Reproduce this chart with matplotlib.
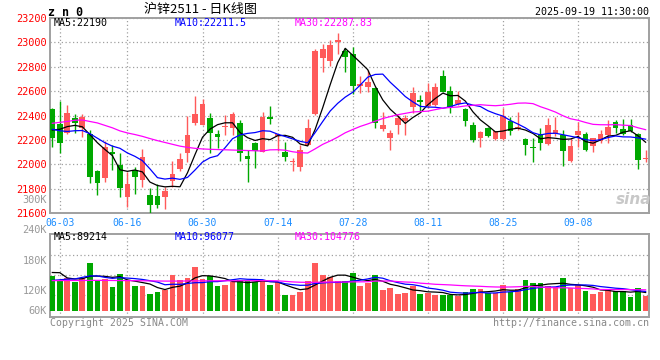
import matplotlib.pyplot as plt
import numpy as np
import pandas as pd

plt.rcParams['font.family'] = ['DejaVu Sans Mono', 'Noto Sans CJK SC']

# 沪锌2511 日K, 80 个交易日 (05-30 .. 09-19)
dates = pd.bdate_range('2025-05-30', '2025-09-19', freq='C', holidays=['2025-06-02'])
day_labels = list(dates.strftime('%m-%d'))
tick_dates = ['06-03', '06-16', '06-30', '07-14', '07-28', '08-11', '08-25', '09-08']

opens = [22454, 22331, 22255, 22378, 22296, 22249, 21946, 21892, 22105, 21996,
         21736, 21955, 21876, 21750, 21742, 21736, 21867, 21963, 22091, 22342,
         22323, 22378, 22249, 22309, 22296, 22337, 22069, 22173, 22105, 22389,
         22236, 22105, 22023, 21982, 22159, 22413, 22874, 22850, 22999, 22932,
         22902, 22645, 22637, 22629, 22290, 22219, 22323, 22356, 22473, 22528,
         22481, 22487, 22724, 22601, 22495, 22454, 22323, 22214, 22296, 22208,
         22208, 22356, 22296, 22208, 22146, 22247, 22168, 22247, 22241, 22031,
         22241, 22249, 22154, 22192, 22241, 22345, 22288, 22323, 22247, 22042]
highs = [22465, 22520, 22487, 22416, 22416, 22282, 21955, 22192, 22159, 22097,
         21936, 21982, 22124, 21805, 21837, 21818, 22028, 22091, 22397, 22561,
         22534, 22419, 22282, 22405, 22432, 22364, 22118, 22180, 22432, 22479,
         22249, 22187, 22056, 22159, 22370, 22943, 22983, 23019, 23079, 22951,
         22964, 22724, 22773, 22637, 22432, 22282, 22405, 22405, 22637, 22569,
         22670, 22670, 22773, 22642, 22601, 22465, 22345, 22274, 22309, 22274,
         22465, 22391, 22427, 22219, 22214, 22296, 22383, 22391, 22282, 22214,
         22350, 22268, 22219, 22282, 22364, 22364, 22372, 22372, 22255, 22118]
lows = [22146, 22091, 22247, 22255, 22228, 21846, 21750, 21859, 21955, 21736,
        21654, 21756, 21818, 21590, 21646, 21633, 21818, 21950, 22023, 22323,
        22323, 22097, 22138, 22241, 22241, 22031, 21859, 21974, 22105, 22329,
        22110, 22031, 21947, 21949, 22159, 22405, 22760, 22809, 22902, 22760,
        22574, 22582, 22596, 22296, 22274, 22118, 22247, 22241, 22419, 22427,
        22460, 22481, 22591, 22424, 22487, 22318, 22181, 22146, 22228, 22200,
        22200, 22241, 22282, 22077, 22023, 22118, 22159, 22236, 21990, 22023,
        22146, 22110, 22105, 22178, 22178, 22255, 22241, 22268, 21960, 22023]
closes = [22219, 22178, 22419, 22337, 22389, 21900, 21846, 22143, 22083, 21810,
          21837, 21900, 22064, 21668, 21668, 21783, 21922, 22045, 22241, 22413,
          22492, 22255, 22228, 22318, 22413, 22091, 22047, 22113, 22391, 22375,
          22249, 22064, 22031, 22118, 22296, 22929, 22945, 22978, 23019, 22883,
          22645, 22656, 22678, 22342, 22323, 22260, 22378, 22378, 22582, 22514,
          22591, 22637, 22596, 22473, 22528, 22359, 22200, 22263, 22236, 22274,
          22394, 22274, 22307, 22159, 22135, 22173, 22323, 22282, 22113, 22151,
          22274, 22118, 22214, 22247, 22309, 22301, 22249, 22274, 22036, 22050]
volumes = [171600, 148500, 163350, 143550, 163350, 234300, 151800, 156750, 118800, 181500,
           151800, 122100, 122100, 82500, 94050, 102300, 176550, 151800, 163350, 217800,
           156750, 171600, 122100, 127050, 143550, 151800, 148500, 143550, 148500, 127050,
           143550, 77550, 77550, 94050, 148500, 237600, 176550, 168300, 148500, 148500,
           188100, 122100, 138600, 176550, 102300, 113850, 84150, 89100, 123750, 84150,
           85800, 77550, 77550, 77550, 72600, 94050, 107250, 107250, 89100, 89100,
           127050, 94050, 107250, 151800, 138600, 138600, 122100, 118800, 161700, 110550,
           127050, 97350, 84150, 94050, 100650, 97350, 97350, 69300, 112200, 74250]

# left end of the moving averages (earlier days are not on the chart)
ma5_head = [22282, 22288, 22310, 22320]
ma10_head = [22288, 22276, 22270, 22276, 22278, 22252, 22215, 22178, 22150]
ma30_head = [22337, 22345, 22352, 22362, 22364, 22352, 22340, 22320, 22300, 22275,
             22258, 22245, 22230, 22212, 22195, 22180, 22165, 22150, 22140, 22132,
             22127, 22124, 22122, 22120, 22118, 22116, 22114, 22112, 22110]
vma5_head = [189000, 188000, 162000, 157000]
vma10_head = [150000, 153000, 156000, 157000, 165000, 172000, 172000, 165000, 160000]
vma30_head = [149000, 149000, 149500, 149500, 149500, 150000, 150000, 150000, 149500, 149000,
              149000, 148500, 148000, 147500, 147000, 146500, 146500, 146500, 147000, 147500,
              147500, 148000, 148000, 148000, 148000, 148500, 148500, 148500, 148500]

ma_texts = ['MA5:22190', 'MA10:22211.5', 'MA30:22287.83']
vma_texts = ['MA5:89214', 'MA10:96077', 'MA30:104776']
vol_labels = ['240K', '180K', '120K', '60K']

RED = '#ff5a5a'
GREEN = '#00a800'
MA_COLORS = ['black', '#0000ff', '#ff00ff']
FRAME = '#a0a0a0'


def moving_avg(values, n, head):
    s = pd.Series(values, dtype=float).rolling(n).mean().to_numpy()
    s[:n - 1] = head
    return s


W, H = 660, 360


def box(x0, y0, x1, y1):
    return [x0 / W, 1 - y1 / H, (x1 - x0) / W, (y1 - y0) / H]


fig = plt.figure(figsize=(6.6, 3.6), dpi=100)
ax = fig.add_axes(box(50, 17.9, 649.3, 213.3))
axv = fig.add_axes(box(50, 234.3, 649.3, 317.3))

x = np.arange(len(closes))
o, h, l, c = (np.array(a, dtype=float) for a in (opens, highs, lows, closes))
cols = np.where(c >= o, RED, GREEN)
tick_idx = [day_labels.index(d) for d in tick_dates]

# K线
ax.vlines(x, l, h, colors=cols, lw=1, zorder=3)
ax.bar(x, np.maximum(np.abs(c - o), 8), bottom=np.minimum(o, c), width=0.76,
       color=cols, zorder=4)
for n, head, col in zip((5, 10, 30), (ma5_head, ma10_head, ma30_head), MA_COLORS):
    ax.plot(x, moving_avg(closes, n, head), color=col, lw=0.9, zorder=5)

# 成交量
axv.bar(x, volumes, width=0.76, color=cols, zorder=3)
for n, head, col in zip((5, 10, 30), (vma5_head, vma10_head, vma30_head), MA_COLORS):
    axv.plot(x, moving_avg(volumes, n, head), color=col, lw=0.9, zorder=5)

for a in (ax, axv):
    a.set_xlim(-0.306, 79.49)
    for sp in a.spines.values():
        sp.set_color(FRAME)
        sp.set_linewidth(1.4)
    a.grid(True, color='#a0a0a0', ls=(0, (1, 2)), lw=0.9)
    a.set_axisbelow(True)

ax.set_ylim(21600, 23200)
ax.set_yticks(np.arange(21600, 23201, 200))
ax.set_xticks(tick_idx, tick_dates)
ax.tick_params(axis='y', length=0, pad=2.5, labelcolor='#ff0000', labelsize=7.4)
ax.tick_params(axis='x', length=0, pad=3.2, labelcolor='#1a8cff', labelsize=7)

axv.set_ylim(-32700, 378000)
axv.set_yticks([76000, 175000, 274000], [])
axv.set_xticks(tick_idx, [])
axv.tick_params(length=0)

# 文字
fig.text(48 / W, 1 - 12 / H, 'z n 0', fontsize=8.4, fontweight='bold', va='center', ha='left')
fig.text(200 / W, 1 - 10 / H, '沪锌2511 - 日K线图', fontsize=9.4, va='center', ha='center',
         family=['Noto Sans CJK SC', 'DejaVu Sans'])
fig.text(649 / W, 1 - 12 / H, '2025-09-19 11:30:00', fontsize=7.2, va='center', ha='right')
for txt, col, px in zip(ma_texts, MA_COLORS, (54, 175, 295)):
    fig.text(px / W, 1 - 23 / H, txt, color=col, fontsize=7.2, va='center', ha='left')
for txt, col, px in zip(vma_texts, MA_COLORS, (54, 175, 295)):
    fig.text(px / W, 1 - 237.5 / H, txt, color=col, fontsize=7.2, va='center', ha='left')
for txt, py in zip(vol_labels, (230, 261, 291, 311)):
    fig.text(47 / W, 1 - py / H, txt, color='#999999', fontsize=7.4, va='center', ha='right')
fig.text(47 / W, 1 - 200 / H, '300K', color='#999999', fontsize=7.4, va='center', ha='right')
fig.text(50 / W, 1 - 323.5 / H, 'Copyright 2025 SINA.COM', color='#888888', fontsize=7.1,
         va='center', ha='left')
fig.text(649 / W, 1 - 323.5 / H, 'http://finance.sina.com.cn', color='#888888', fontsize=7.2,
         va='center', ha='right')
fig.text(634 / W, 1 - 200 / H, 'sina', color='#c8c8c8', fontsize=11, fontweight='bold',
         style='italic', va='center', ha='center', family='DejaVu Sans')

fig.savefig('out.png', dpi=100)
